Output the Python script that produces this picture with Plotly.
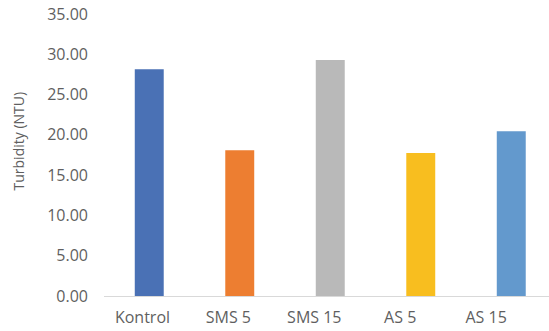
import plotly.graph_objects as go

categories = ["Kontrol", "SMS 5", "SMS 15", "AS 5", "AS 15"]
turbidity = [28.15, 18.10, 29.28, 17.75, 20.45]
bar_colors = ["#4a71b5", "#ed7e31", "#b9b9b9", "#f8be1f", "#6399cd"]
y_ticks = [0, 5, 10, 15, 20, 25, 30, 35]
y_tick_labels = [f"{v:.2f}" for v in y_ticks]
y_title = "Turbidity (NTU)"

idx = list(range(len(categories)))
font_fam = "Open Sans"
gray = "#5f5f5f"

fig = go.Figure()
fig.add_trace(go.Bar(x=idx, y=turbidity, marker=dict(color=bar_colors, line=dict(width=0)),
                     width=0.32, hoverinfo="skip", showlegend=False))
# label axis trace (invisible) so the category labels align as in the reference
fig.add_trace(go.Scatter(x=idx, y=[0]*len(idx), xaxis="x2", mode="markers",
                         marker=dict(opacity=0), hoverinfo="skip", showlegend=False))

fig.update_layout(
    width=549, height=331,
    margin=dict(l=104, r=0, t=14, b=35),
    paper_bgcolor="white", plot_bgcolor="white",
    font=dict(family=font_fam, size=16, color=gray),
    xaxis=dict(range=[-0.5, 4.417], showticklabels=False, showgrid=False, zeroline=False,
               showline=True, linecolor="#d9d9d9", linewidth=1, ticks=""),
    xaxis2=dict(overlaying="x", anchor="y", side="bottom", range=[-0.448, 4.732],
                tickmode="array", tickvals=idx, ticktext=categories,
                showgrid=False, zeroline=False, showline=False, ticks="",
                ticklabelstandoff=10, tickfont=dict(family=font_fam, size=16, color=gray)),
    yaxis=dict(range=[0, 35], tickmode="array", tickvals=y_ticks, ticktext=y_tick_labels,
               showgrid=False, zeroline=False, showline=False, ticks="",
               ticklabelstandoff=15),
    annotations=[dict(text=y_title, textangle=-90, xref="paper", yref="paper",
                      x=0, y=0.548, xanchor="center", yanchor="middle", xshift=-86,
                      showarrow=False, font=dict(family=font_fam, size=14, color=gray))],
)

fig.write_html("out.html")
